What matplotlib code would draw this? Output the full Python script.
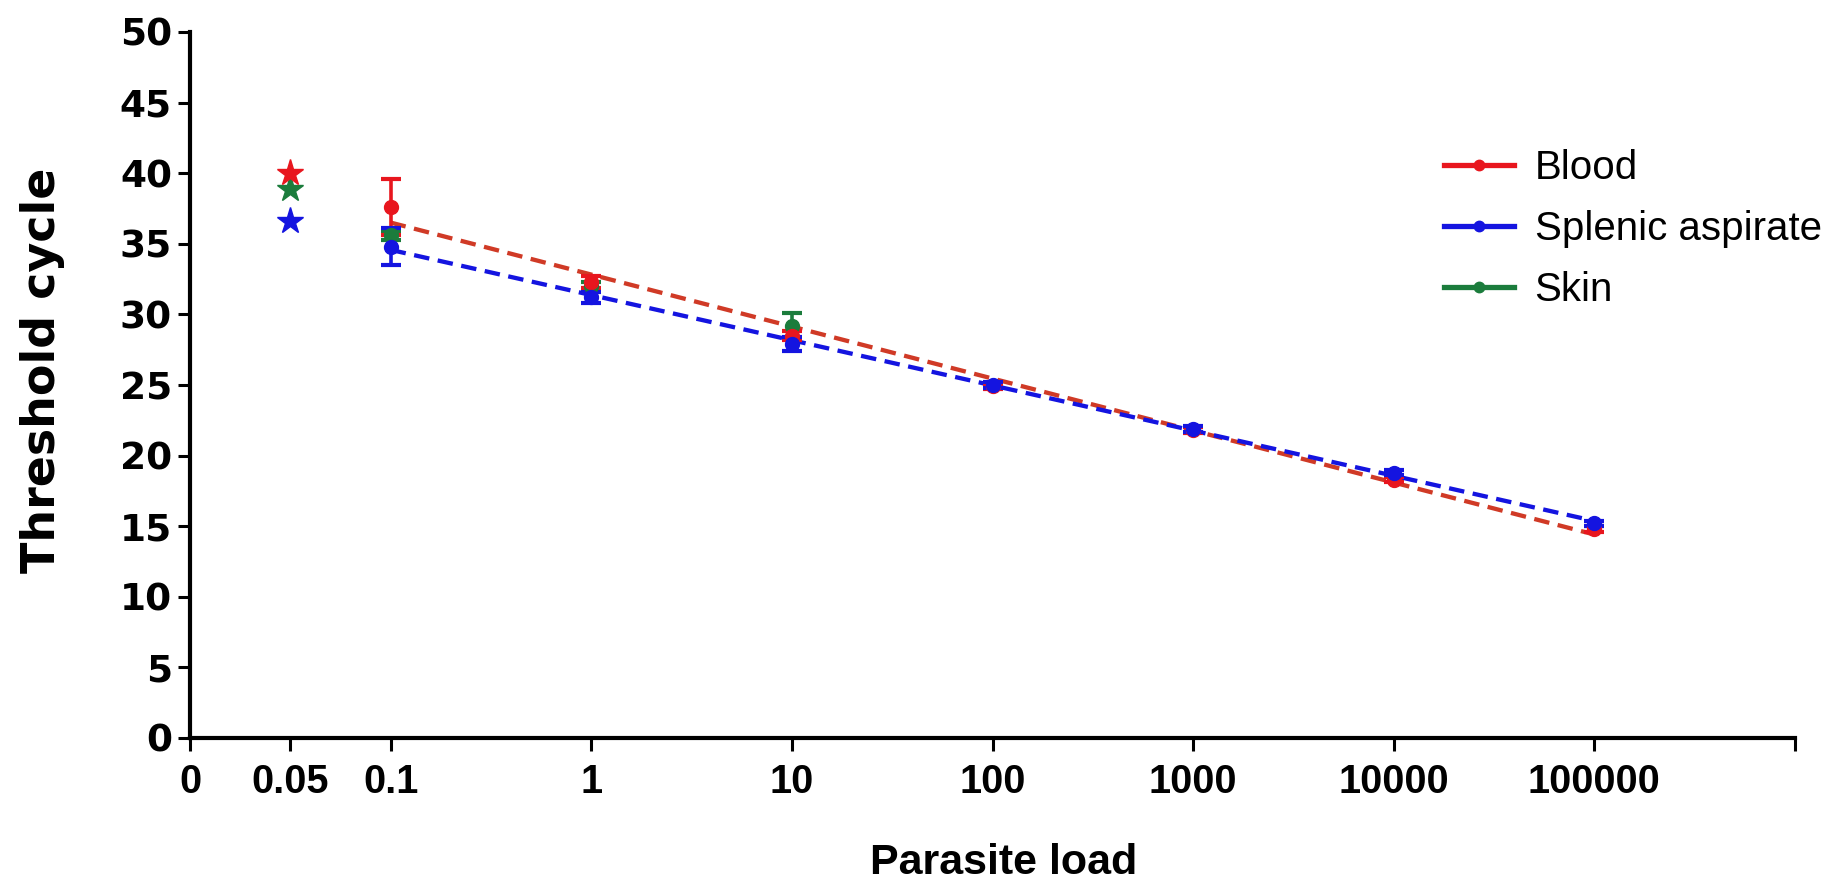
import numpy as np
import matplotlib
matplotlib.use("Agg")
import matplotlib.pyplot as plt
from matplotlib.lines import Line2D

# ---------------- data ----------------
loads = [0.1, 1, 10, 100, 1000, 10000, 100000]
blood_ct = [37.6, 32.3, 28.5, 24.9, 21.8, 18.3, 14.8]
blood_err = [2.0, 0.4, 0.3, 0.2, 0.2, 0.2, 0.2]
splenic_ct = [34.8, 31.2, 27.9, 25.0, 21.9, 18.8, 15.2]
splenic_err = [1.3, 0.4, 0.5, 0.2, 0.2, 0.2, 0.2]
skin_loads = [0.1, 1, 10]
skin_ct = [35.6, 32.0, 29.2]
skin_err = [0.3, 0.3, 0.9]

star_load = 0.05
star_blood = 40.0
star_skin = 38.9
star_splenic = 36.6

series_names = ["Blood", "Splenic aspirate", "Skin"]
x_ticks = [0, 0.05, 0.1, 1, 10, 100, 1000, 10000, 100000, 1000000]
x_tick_labels = ["0", "0.05", "0.1", "1", "10", "100", "1000", "10000", "100000", ""]
y_ticks = [0, 5, 10, 15, 20, 25, 30, 35, 40, 45, 50]

RED = "#e8161e"
RED_LINE = "#d03a26"
BLUE = "#1414e0"
GREEN = "#1b7c3c"


# segmented axis: linear between 0 and 0.1, logarithmic above
def fwd(v):
    v = np.asarray(v, dtype=float)
    with np.errstate(divide="ignore", invalid="ignore"):
        lg = np.log10(np.maximum(v, 1e-12))
    return np.where(v < 0.1, -2 + v * 10, lg)


def inv(p):
    p = np.asarray(p, dtype=float)
    return np.where(p < -1, (p + 2) / 10, 10 ** np.minimum(p, 300))


fig = plt.figure(figsize=(18.41, 8.86), dpi=100)
ax = fig.add_axes([190 / 1841, 1 - 738 / 886, (1795 - 190) / 1841, (738 - 32) / 886])
ax.set_xscale("function", functions=(fwd, inv))
ax.set_xlim(0, 1000000)
ax.set_ylim(0, 50)

# regression lines (fit in log space)
lx = np.log10(loads)
for ct, col in [(blood_ct, RED_LINE), (splenic_ct, BLUE)]:
    slope, icpt = np.polyfit(lx, ct, 1)
    xs = np.array([loads[0], loads[-1]])
    ax.plot(xs, icpt + slope * np.log10(xs), color=col, lw=3.1,
            ls=(0, (3.6, 2.0)), zorder=3)

eb_kw = dict(fmt="o", ms=10, elinewidth=2.6, capsize=7, capthick=3, zorder=4)
ax.errorbar(skin_loads, skin_ct, yerr=skin_err, color=GREEN, ecolor=GREEN, **eb_kw)
ax.errorbar(loads, blood_ct, yerr=blood_err, color=RED, ecolor=RED, **eb_kw)
ax.errorbar(loads, splenic_ct, yerr=splenic_err, color=BLUE, ecolor=BLUE, **eb_kw)

# stars at 0.05
ax.plot([star_load], [star_splenic], marker="*", ms=20, color=BLUE, ls="none", zorder=5)
ax.plot([star_load], [star_skin], marker="*", ms=20, color=GREEN, ls="none", zorder=5)
ax.plot([star_load], [star_blood], marker="*", ms=20, color=RED, ls="none", zorder=6)

# axes styling
for s in ["top", "right"]:
    ax.spines[s].set_visible(False)
for s in ["left", "bottom"]:
    ax.spines[s].set_linewidth(3)
ax.set_xticks(x_ticks)
ax.set_xticklabels(x_tick_labels)
ax.set_yticks(y_ticks)
ax.minorticks_off()
ax.tick_params(axis="both", length=9, width=2.2, direction="out")
ax.tick_params(axis="x", pad=9)
ax.tick_params(axis="y", pad=4)
for lab in ax.get_xticklabels():
    lab.set_fontfamily("Liberation Sans")
    lab.set_fontweight("bold")
    lab.set_fontsize(28.5)
for lab in ax.get_yticklabels():
    lab.set_fontfamily("DejaVu Sans")
    lab.set_fontweight("bold")
    lab.set_fontsize(27)

fig.text(43 / 1841, 1 - 370 / 886, "Threshold cycle", rotation=90, ha="center",
         va="center", fontsize=33, fontweight="bold", family="DejaVu Sans")
fig.text(1004 / 1841, 1 - 863 / 886, "Parasite load", ha="center", va="center",
         fontsize=31, fontweight="bold", family="Liberation Sans")

handles = [Line2D([], [], color=c, lw=3.8, marker="o", ms=7.5) for c in (RED, BLUE, GREEN)]
leg = fig.legend(handles, series_names, loc="center left",
                 bbox_to_anchor=(1444 / 1841, 1 - 229 / 886), frameon=False,
                 borderpad=0, borderaxespad=0, handlelength=1.75, handletextpad=0.5,
                 labelspacing=0.58, prop={"family": "Liberation Sans", "size": 29})

fig.savefig("out.png", dpi=100)
